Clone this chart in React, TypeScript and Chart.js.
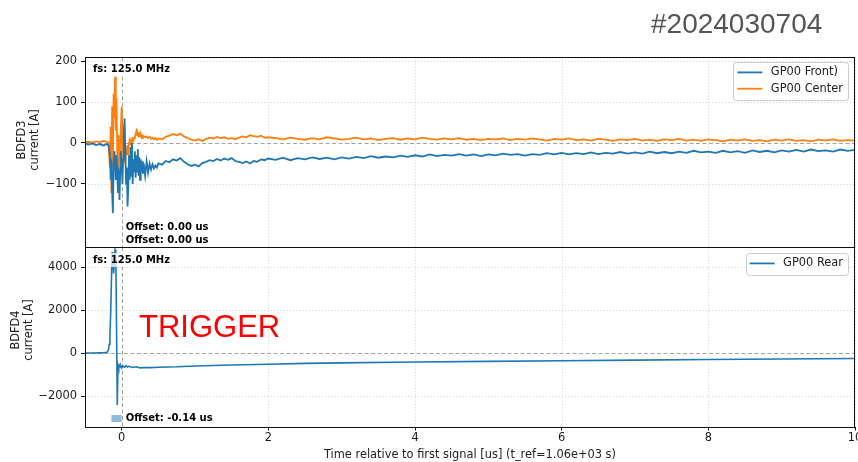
import React, { useEffect, useRef } from "react";
import { Chart, registerables } from "chart.js";

Chart.register(...registerables);

// ---------------- data ----------------
const xTickValues = [0, 2, 4, 6, 8, 10];
const xRange = [-0.5, 10];
const topTickValues = [-100, 0, 100, 200];
const topRange = [-254, 210];
const bottomTickValues = [-2000, 0, 2000, 4000];
const bottomRange = [-3440, 4930];
const offsetSpan = [-0.14, 0];

const timeTop = [
  -0.5, -0.45, -0.4, -0.35, -0.3, -0.25,
  -0.2, -0.18, -0.16,
  -0.15, -0.14, -0.13, -0.12, -0.11, -0.1, -0.09, -0.08, -0.07, -0.06,
  -0.05, -0.04, -0.03, -0.02, -0.01, 0, 0.01, 0.02, 0.03, 0.04,
  0.05, 0.06, 0.07, 0.08, 0.09, 0.1, 0.11, 0.12, 0.13, 0.14,
  0.15, 0.16, 0.17, 0.18, 0.19, 0.2, 0.21, 0.22, 0.23, 0.24,
  0.25, 0.26, 0.27, 0.28, 0.29, 0.3,
  0.32, 0.34, 0.36, 0.38, 0.4, 0.42, 0.44, 0.46, 0.48, 0.5,
  0.55, 0.6, 0.65, 0.7, 0.75, 0.8, 0.85, 0.9, 0.95, 1.0,
  1.05, 1.1, 1.15, 1.2, 1.25, 1.3, 1.35, 1.4, 1.45, 1.5,
  1.55, 1.6, 1.65, 1.7, 1.75, 1.8, 1.85, 1.9, 1.95, 2.0,
  2.1, 2.2, 2.3, 2.4, 2.5, 2.6, 2.7, 2.8, 2.9, 3.0,
  3.1, 3.2, 3.3, 3.4, 3.5, 3.6, 3.7, 3.8, 3.9, 4.0,
  4.1, 4.2, 4.3, 4.4, 4.5, 4.6, 4.7, 4.8, 4.9, 5.0,
  5.1, 5.2, 5.3, 5.4, 5.5, 5.6, 5.7, 5.8, 5.9, 6.0,
  6.1, 6.2, 6.3, 6.4, 6.5, 6.6, 6.7, 6.8, 6.9, 7.0,
  7.1, 7.2, 7.3, 7.4, 7.5, 7.6, 7.7, 7.8, 7.9, 8.0,
  8.1, 8.2, 8.3, 8.4, 8.5, 8.6, 8.7, 8.8, 8.9, 9.0,
  9.1, 9.2, 9.3, 9.4, 9.5, 9.6, 9.7, 9.8, 9.9, 10.0,
];

const gp00Front = [
  -2, -4, -1, -5, -3, -6,
  -3, -5, -30,
  -90, -40, -120, -171, -60, -20, -40, -90, -30, -70,
  -120, -60, -139, -70, -20, -50, -100, -40, 30, 60,
  -20, -100, -60, -155, -110, -30, -90, -10, -80, 0,
  -100, -40, -70, -20, -85, -30, -70, -15, -80, -35,
  -90, -40, -70, -45, -75, -50,
  -80, -45, -72, -50, -65, -52, -62, -55, -60, -50,
  -53, -44, -47, -40, -43, -37, -46, -52, -56, -53,
  -57, -49, -46, -42, -44, -39, -43, -38, -41, -37,
  -44, -46, -49, -45, -50, -44, -46, -40, -42, -38,
  -41, -36, -42, -37, -40, -35, -39, -36, -40, -35,
  -38, -34, -37, -32, -36, -33, -35, -31, -34, -30,
  -33, -28, -32, -29, -31, -27, -31, -28, -32, -28,
  -30, -26, -29, -27, -31, -27, -29, -25, -28, -24,
  -28, -25, -27, -23, -27, -24, -26, -22, -26, -23,
  -26, -21, -25, -22, -25, -21, -24, -19, -23, -21,
  -24, -19, -23, -20, -24, -18, -22, -19, -23, -18,
  -21, -17, -21, -16, -20, -18, -21, -16, -19, -17,
];

const gp00Center = [
  2, 3, 1, 4, 2, 5,
  3, 0, -60,
  40, -122, 90, -60, 120, 60, 162, 30, 110, -30,
  -115, 20, -60, -20, 40, 89, 20, -30, -50, -20,
  -45, -10, -30, -5, -20, 0, 5, 0, 8, 3,
  10, 6, 12, 15, 20, 28, 20, 24, 18, 22,
  16, 20, 14, 18, 15, 17,
  14, 16, 12, 15, 10, 13, 9, 12, 8, 11,
  9, 15, 18, 22, 19, 23, 16, 12, 8, 6,
  9, 5, 10, 13, 11, 15, 12, 14, 10, 12,
  9, 13, 16, 14, 19, 17, 15, 18, 13, 14,
  12, 9, 13, 10, 8, 12, 9, 14, 11, 8,
  10, 13, 9, 11, 7, 10, 12, 8, 11, 9,
  13, 10, 8, 11, 9, 12, 8, 10, 7, 10,
  9, 11, 7, 10, 8, 11, 9, 6, 10, 8,
  11, 7, 9, 6, 10, 8, 5, 9, 7, 10,
  6, 8, 5, 9, 7, 10, 6, 8, 5, 9,
  7, 4, 8, 6, 9, 5, 7, 4, 8, 6,
  9, 5, 7, 4, 8, 6, 9, 5, 7, 6,
];

const timeBottom = [
  -0.5, -0.4, -0.3, -0.25, -0.2,
  -0.18, -0.17, -0.16, -0.15, -0.14, -0.13, -0.12, -0.11, -0.1, -0.09,
  -0.08, -0.07, -0.06, -0.05, -0.04, -0.03, -0.02, -0.01, 0,
  0.02, 0.04, 0.06, 0.08, 0.1,
  0.15, 0.2, 0.25, 0.3, 0.4, 0.5, 0.75, 1,
  1.5, 2, 2.5, 3, 4, 5, 6, 7, 8, 9, 10,
];

const gp00Rear = [
  0, 0, 5, 10, 30,
  150, 400, 900, 1800, 3300, 4700, 4500, 3700, 4200, 4800,
  4600, 1200, -2420, -560, -700, -580, -650, -600, -690,
  -610, -660, -590, -650, -620,
  -670, -640, -690, -670, -680, -660, -640, -600,
  -560, -520, -480, -460, -420, -390, -360, -330, -300, -280, -255,
];

// ---------------- styling ----------------
const BLUE = "#1f77b4";
const ORANGE = "#ff7f0e";
const FONT = "'DejaVu Sans', sans-serif";
const TICK_SIZE = 11.4;

const fmt = (v: number) => String(v).replace("-", "\u2212");

function seg(ctx: CanvasRenderingContext2D, x1: number, y1: number, x2: number, y2: number) {
  ctx.beginPath();
  ctx.moveTo(x1, y1);
  ctx.lineTo(x2, y2);
  ctx.stroke();
}

type DecorCfg = {
  name: string;
  yTicks: number[];
  legend: { label: string; color: string }[];
  legendTop: number;
  fsDy: number;
  offsets: { text: string; dy: number }[];
  ylabel: string[];
  ylabelX: number[];
  ylabelY: number;
  span?: boolean;
  extra?: (chart: any) => void;
};

function makeDecor(cfg: DecorCfg) {
  return {
    id: "decor_" + cfg.name,
    beforeDatasetsDraw(chart: any) {
      const { ctx, chartArea: a } = chart;
      const xs = chart.scales.x;
      const ys = chart.scales.y;
      ctx.save();
      ctx.lineWidth = 0.8;
      ctx.strokeStyle = "#cfcfcf";
      ctx.setLineDash([1.2, 2]);
      xTickValues.forEach((v) => {
        if (v === 0) return;
        const p = Math.round(xs.getPixelForValue(v)) + 0.5;
        seg(ctx, p, a.top, p, a.bottom);
      });
      cfg.yTicks.forEach((v) => {
        if (v === 0) return;
        const p = Math.round(ys.getPixelForValue(v)) + 0.5;
        seg(ctx, a.left, p, a.right, p);
      });
      ctx.strokeStyle = "#9a9a9a";
      ctx.lineWidth = 0.9;
      ctx.setLineDash([4, 2.5]);
      const x0 = Math.round(xs.getPixelForValue(0)) + 0.5;
      seg(ctx, x0, a.top, x0, a.bottom);
      const y0 = Math.round(ys.getPixelForValue(0)) + 0.5;
      seg(ctx, a.left, y0, a.right, y0);
      ctx.restore();
    },
    afterDatasetsDraw(chart: any) {
      const { ctx, chartArea: a } = chart;
      const xs = chart.scales.x;
      ctx.save();
      // frame
      ctx.strokeStyle = "#111";
      ctx.lineWidth = 1;
      ctx.strokeRect(Math.round(a.left) + 0.5, Math.round(a.top) + 0.5, Math.round(a.right - a.left) - 1, Math.round(a.bottom - a.top));

      // offset span patch
      if (cfg.span) {
        const xa = xs.getPixelForValue(offsetSpan[0]);
        const xb = xs.getPixelForValue(offsetSpan[1]);
        ctx.fillStyle = "rgba(31,119,180,0.5)";
        ctx.fillRect(xa, a.bottom - 12, xb - xa, 7);
      }

      // fs label with translucent box
      ctx.font = `bold 10px ${FONT}`;
      ctx.textBaseline = "middle";
      ctx.textAlign = "left";
      const fsText = "fs: 125.0 MHz";
      const fw = ctx.measureText(fsText).width;
      ctx.fillStyle = "rgba(255,255,255,0.75)";
      ctx.fillRect(a.left + 6, a.top + cfg.fsDy - 7, fw + 4, 14);
      ctx.fillStyle = "#000";
      ctx.fillText(fsText, a.left + 8, a.top + cfg.fsDy);

      const x0 = xs.getPixelForValue(0);
      cfg.offsets.forEach((o) => {
        ctx.fillText(o.text, x0 + 4, a.bottom - o.dy);
      });

      // legend
      ctx.font = `${TICK_SIZE}px ${FONT}`;
      const tw = Math.max(...cfg.legend.map((l) => ctx.measureText(l.label).width));
      const boxW = 4 + 25 + 8.5 + tw + 5;
      const rowH = 16.3;
      const boxH = 20.5 + rowH * (cfg.legend.length - 1) + 1.5;
      const bx = a.right - 7 - boxW;
      const by = a.top + cfg.legendTop;
      ctx.fillStyle = "rgba(255,255,255,0.85)";
      ctx.strokeStyle = "#cccccc";
      ctx.lineWidth = 1;
      ctx.beginPath();
      (ctx as any).roundRect(Math.round(bx) + 0.5, Math.round(by) + 0.5, Math.round(boxW), Math.round(boxH), 3);
      ctx.fill();
      ctx.stroke();
      cfg.legend.forEach((l, i) => {
        const cy = by + 10.4 + i * rowH;
        ctx.strokeStyle = l.color;
        ctx.lineWidth = 1.8;
        seg(ctx, bx + 4, cy, bx + 29, cy);
        ctx.fillStyle = "#222";
        ctx.textAlign = "left";
        ctx.textBaseline = "middle";
        ctx.fillText(l.label, bx + 37.5, cy);
      });

      // y label (two lines, rotated)
      ctx.fillStyle = "#222";
      ctx.font = `${TICK_SIZE}px ${FONT}`;
      ctx.textAlign = "center";
      ctx.textBaseline = "middle";
      cfg.ylabel.forEach((t, i) => {
        ctx.save();
        ctx.translate(cfg.ylabelX[i], cfg.ylabelY);
        ctx.rotate(-Math.PI / 2);
        ctx.fillText(t, 0, 0);
        ctx.restore();
      });

      if (cfg.extra) cfg.extra(chart);
      ctx.restore();
    },
  };
}

function baseOptions(range: number[], yTicks: number[], padding: any, xAxis: any) {
  return {
    animation: false,
    responsive: false,
    devicePixelRatio: 1,
    layout: { padding },
    plugins: { legend: { display: false }, tooltip: { enabled: false } },
    elements: { point: { radius: 0 }, line: { tension: 0 } },
    scales: {
      x: {
        type: "linear",
        min: xRange[0],
        max: xRange[1],
        afterBuildTicks: (s: any) => {
          s.ticks = xTickValues.map((v) => ({ value: v }));
        },
        ...xAxis,
      },
      y: {
        type: "linear",
        min: range[0],
        max: range[1],
        afterBuildTicks: (s: any) => {
          s.ticks = yTicks.map((v) => ({ value: v }));
        },
        ticks: {
          callback: (v: number) => fmt(v),
          font: { family: FONT, size: TICK_SIZE },
          color: "#1a1a1a",
          padding: 4,
        },
        grid: { display: true, drawOnChartArea: false, drawTicks: true, tickLength: 4, tickColor: "#111" },
        border: { display: false },
        afterFit: (s: any) => {
          s.width = 85;
          s.paddingTop = 0;
          s.paddingBottom = 0;
        },
      },
    },
  };
}

function topConfig(): any {
  const decor = makeDecor({
    name: "top",
    yTicks: topTickValues,
    legend: [
      { label: "GP00 Front)", color: BLUE },
      { label: "GP00 Center", color: ORANGE },
    ],
    legendTop: 5,
    fsDy: 12,
    offsets: [
      { text: "Offset: 0.00 us", dy: 20 },
      { text: "Offset: 0.00 us", dy: 7 },
    ],
    ylabel: ["BDFD3", "current [A]"],
    ylabelX: [22, 35],
    ylabelY: 140,
    extra: (chart: any) => {
      const ctx = chart.ctx;
      ctx.font = "28px 'Liberation Sans', Arial, sans-serif";
      ctx.fillStyle = "#555555";
      ctx.textAlign = "left";
      ctx.textBaseline = "alphabetic";
      ctx.fillText("#2024030704", 651, 33);
    },
  });
  return {
    type: "line",
    data: {
      datasets: [
        {
          label: "GP00 Front)",
          data: timeTop.map((t, i) => ({ x: t, y: gp00Front[i] })),
          borderColor: BLUE,
          borderWidth: 1.8,
          pointRadius: 0,
        },
        {
          label: "GP00 Center",
          data: timeTop.map((t, i) => ({ x: t, y: gp00Center[i] })),
          borderColor: ORANGE,
          borderWidth: 1.8,
          pointRadius: 0,
        },
      ],
    },
    options: baseOptions(topRange, topTickValues, { left: 0, right: 3, top: 57, bottom: 3 }, {
      ticks: { display: false },
      grid: { display: false },
      border: { display: false },
      afterFit: (s: any) => {
        s.height = 0;
        s.paddingLeft = 0;
        s.paddingRight = 0;
      },
    }),
    plugins: [decor],
  };
}

function bottomConfig(): any {
  const decor = makeDecor({
    name: "bottom",
    yTicks: bottomTickValues,
    legend: [{ label: "GP00 Rear", color: BLUE }],
    legendTop: 6,
    fsDy: 13,
    offsets: [{ text: "Offset: -0.14 us", dy: 9 }],
    ylabel: ["BDFD4", "current [A]"],
    ylabelX: [16, 29],
    ylabelY: 93,
    span: true,
    extra: (chart: any) => {
      const ctx = chart.ctx;
      const a = chart.chartArea;
      ctx.font = `${TICK_SIZE}px ${FONT}`;
      ctx.fillStyle = "#222";
      ctx.textAlign = "center";
      ctx.textBaseline = "middle";
      ctx.fillText("Time relative to first signal [us] (t_ref=1.06e+03 s)", (a.left + a.right) / 2, 218);
      ctx.font = "31px 'Liberation Sans', Arial, sans-serif";
      ctx.fillStyle = "#ff0000";
      ctx.textAlign = "left";
      ctx.textBaseline = "alphabetic";
      ctx.fillText("TRIGGER", 139, 100);
    },
  });
  return {
    type: "line",
    data: {
      datasets: [
        {
          label: "GP00 Rear",
          data: timeBottom.map((t, i) => ({ x: t, y: gp00Rear[i] })),
          borderColor: BLUE,
          borderWidth: 1.6,
          pointRadius: 0,
        },
      ],
    },
    options: baseOptions(bottomRange, bottomTickValues, { left: 0, right: 3, top: 10, bottom: 0 }, {
      ticks: {
        font: { family: FONT, size: TICK_SIZE },
        color: "#1a1a1a",
        padding: 1,
        maxRotation: 0,
        callback: (v: number) => fmt(v),
      },
      grid: { display: true, drawOnChartArea: false, drawTicks: true, tickLength: 3.5, tickColor: "#111" },
      border: { display: false },
      afterFit: (s: any) => {
        s.height = 35;
        s.paddingLeft = 0;
        s.paddingRight = 0;
      },
    }),
    plugins: [decor],
  };
}

export default function App() {
  const topRef = useRef<HTMLCanvasElement>(null);
  const botRef = useRef<HTMLCanvasElement>(null);
  useEffect(() => {
    const c1 = new Chart(topRef.current as HTMLCanvasElement, topConfig());
    const c2 = new Chart(botRef.current as HTMLCanvasElement, bottomConfig());
    return () => {
      c1.destroy();
      c2.destroy();
    };
  }, []);
  return (
    <div style={{ position: "absolute", left: 0, top: 0, width: 858, height: 462, background: "#fff", overflow: "hidden" }}>
      <canvas ref={topRef} width={858} height={250} style={{ position: "absolute", left: 0, top: 0, width: 858, height: 250 }} />
      <canvas ref={botRef} width={858} height={225} style={{ position: "absolute", left: 0, top: 237, width: 858, height: 225 }} />
    </div>
  );
}
